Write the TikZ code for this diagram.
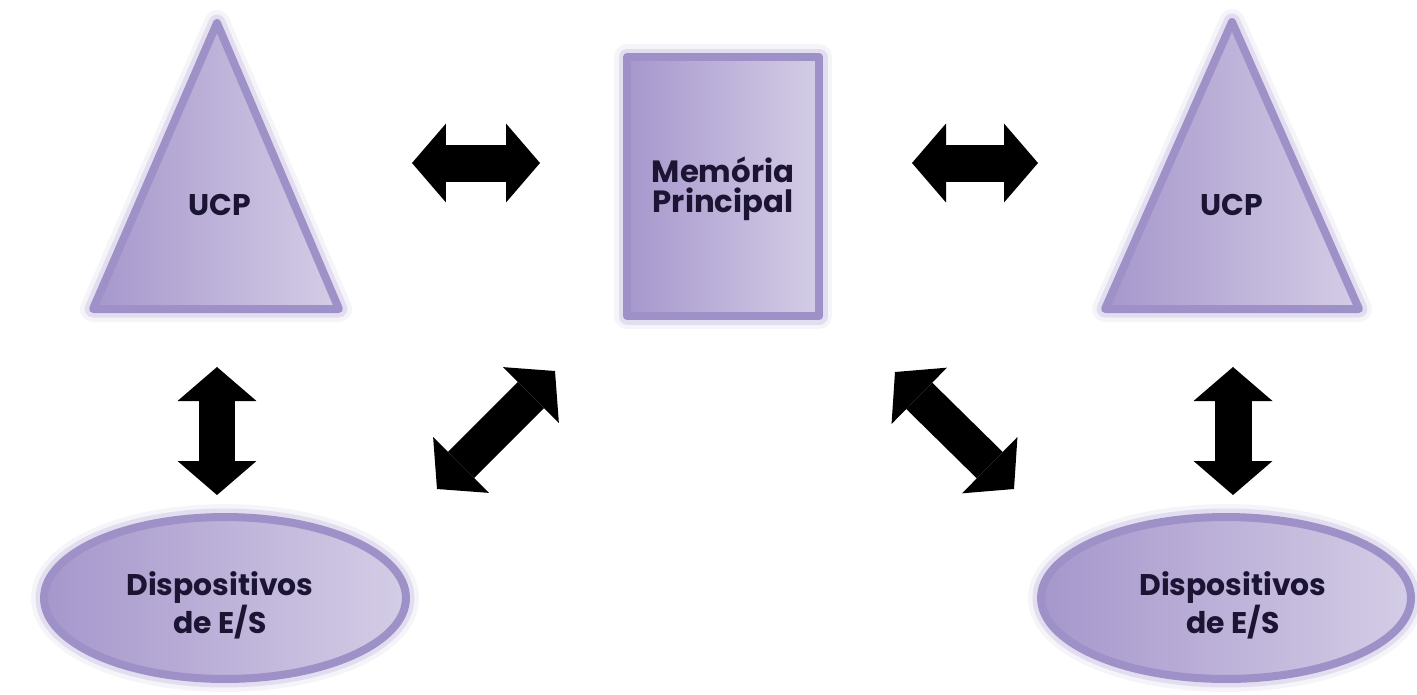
\documentclass[tikz,border=0pt]{standalone}
\usepackage{fontspec}
\setmainfont{Poppins}
\usetikzlibrary{arrows.meta}

\definecolor{shapeL}{HTML}{A697CC}
\definecolor{shapeR}{HTML}{D4CDE6}
\definecolor{shapeEdge}{HTML}{9E91C8}
\definecolor{labelInk}{HTML}{1B1432}

\tikzset{
  unit shape/.style={
    preaction={draw=shapeEdge, line width=0.52cm, opacity=0.10, line join=round},
    preaction={draw=shapeEdge, line width=0.34cm, opacity=0.22, line join=round},
    left color=shapeL, right color=shapeR,
    draw=shapeEdge, line width=0.16cm, line join=round},
  label text/.style={font=\bfseries\fontsize{17}{19}\selectfont,
    text=labelInk, align=center, inner sep=0pt},
  blockarrow/.style={draw=black, line width=0.74cm,
    {Triangle[length=0.68cm, width=1.58cm, line width=0pt]}-{Triangle[length=0.68cm, width=1.58cm, line width=0pt]}},
}

\begin{document}
\begin{tikzpicture}[x=0.02cm, y=-0.02cm]
  \useasboundingbox (0,0) rectangle (1417,694);

  % processors
  \path[unit shape] (217,23) -- (93,309) -- (339,309) -- cycle;
  \path[unit shape] (1232,22) -- (1105,309) -- (1359,309) -- cycle;
  \node[label text] (ucpA) at (220,205) {UCP};
  \node[label text] (ucpB) at (1232,205) {UCP};

  % main memory
  \path[unit shape] (627,57) rectangle (819,316);
  \node[label text, font=\bfseries\fontsize{17.5}{17}\selectfont] (mem) at (723,189) {Memória\\Principal};

  % I/O devices
  \path[unit shape] (225,598) ellipse [x radius=3.62cm, y radius=1.62cm];
  \path[unit shape] (1226,598) ellipse [x radius=3.70cm, y radius=1.62cm];
  \node[label text] (ioA) at (220,605) {Dispositivos\\de E/S};
  \node[label text] (ioB) at (1233,605) {Dispositivos\\de E/S};

  % arrow end points
  \coordinate (hA1) at (412,163);  \coordinate (hA2) at (540,163);
  \coordinate (hB1) at (912,163);  \coordinate (hB2) at (1038,163);
  \coordinate (vA1) at (217,367);  \coordinate (vA2) at (217,495);
  \coordinate (vB1) at (1233,367); \coordinate (vB2) at (1233,495);
  \coordinate (dA1) at (437,489);  \coordinate (dA2) at (555,371);
  \coordinate (dB1) at (895,372);  \coordinate (dB2) at (1014,489);

  % buses
  \draw[blockarrow] (hA1) -- (hA2);
  \draw[blockarrow] (hB1) -- (hB2);
  \draw[blockarrow] (vA1) -- (vA2);
  \draw[blockarrow] (vB1) -- (vB2);
  \draw[blockarrow] (dA1) -- (dA2);
  \draw[blockarrow] (dB1) -- (dB2);
\end{tikzpicture}
\end{document}
